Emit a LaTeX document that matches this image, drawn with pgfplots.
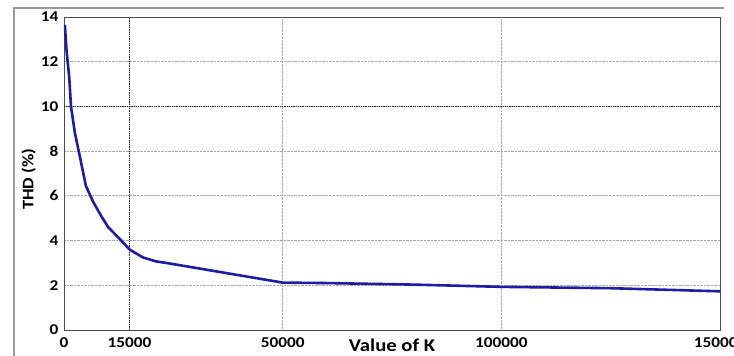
\documentclass[border=0pt]{standalone}
\usepackage{pgfplots}
\pgfplotsset{compat=1.18}
\usepackage{fontspec}
\setmainfont{Carlito}[FakeStretch=1.15]
\begin{document}
\begin{tikzpicture}[x=1pt,y=1pt]
% page area and the surrounding frame lines
\path[use as bounding box] (-64,-26) rectangle (670,330);
\draw[gray!80, line width=1.6pt] (-50,-30) -- (-50,322) -- (660,322);
\begin{axis}[
  at={(0,0)}, anchor=origin,
  scale only axis, width=656pt, height=313pt,
  xmin=0, xmax=150000, ymin=0, ymax=14,
  xtick={0,15000,50000,100000,150000},
  xticklabels={0,15000,50000,100000,150000},
  ytick={0,2,...,14},
  scaled x ticks=false,
  /pgf/number format/assume math mode=true,
  tick label style={font=\fontsize{15}{15}\selectfont\bfseries},
  xticklabel style={anchor=base, yshift=-17pt},
  yticklabel style={anchor=east, xshift=-2pt},
  major tick length=0pt,
  xmajorgrids, ymajorgrids,
  grid style={gray!70, densely dotted, line width=0.8pt},
  extra x ticks={15000}, extra x tick labels={},
  extra y ticks={10}, extra y tick labels={},
  extra tick style={grid style={black!85, densely dotted, line width=0.8pt}},
  axis line style={gray!60!black, line width=0.9pt},
  xlabel={Value of K},
  ylabel={THD (\%)},
  xlabel style={font=\fontsize{18}{18}\selectfont\bfseries, at={(axis description cs:0.5,0)}, anchor=base, yshift=-21pt},
  ylabel style={font=\fontsize{16}{16}\selectfont\bfseries, at={(axis description cs:-0.054,0.482)}, anchor=center},
]
\addplot[color={rgb,255:red,28;green,28;blue,165}, line width=2.6pt, line join=round] coordinates {
  (200,13.65) (600,12.45) (1200,11.3) (1600,10.0) (2500,8.8) (3640,7.75)
  (5000,6.45) (6700,5.72) (8500,5.1) (10100,4.6) (13100,4.0) (15000,3.6)
  (18000,3.25) (21000,3.07) (24000,2.98) (37000,2.55) (50000,2.12)
  (60000,2.1) (80000,2.03) (100000,1.93) (125000,1.87) (150000,1.73)
};
\end{axis}
\end{tikzpicture}
\end{document}
